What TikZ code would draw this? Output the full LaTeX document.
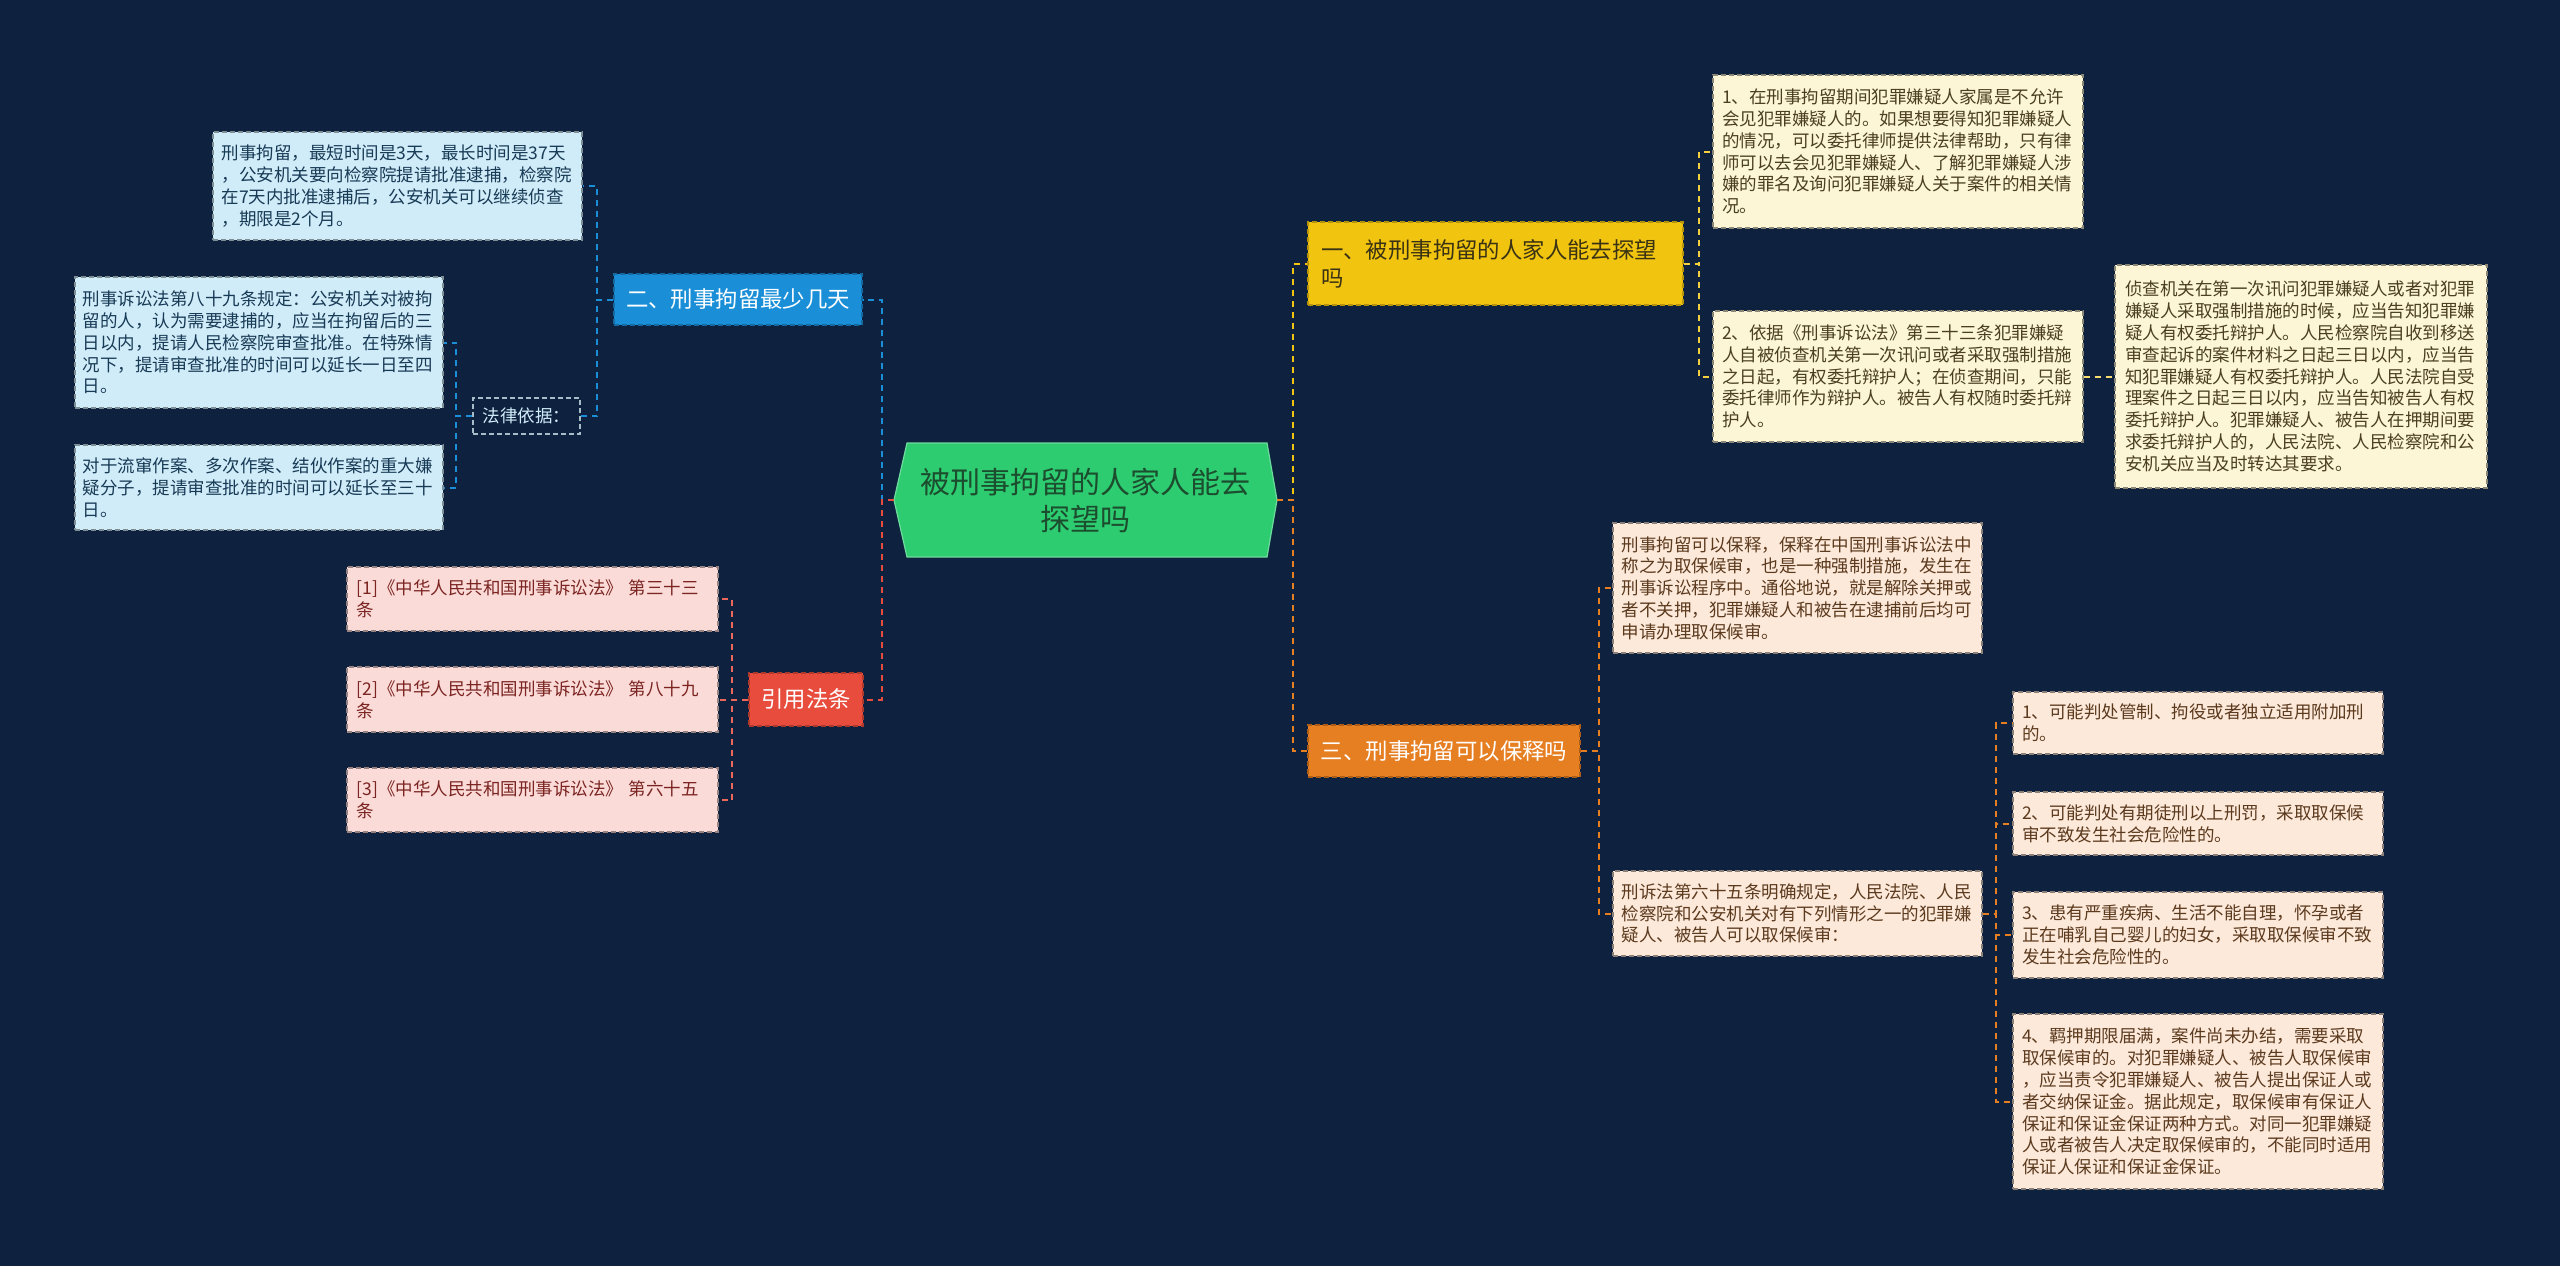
\documentclass[tikz,border=0pt]{standalone}
\usepackage{fontspec}
\setmainfont{Noto Sans CJK SC}
\definecolor{bg}{HTML}{0E2240}
\definecolor{cgreen}{HTML}{2ECC71}
\definecolor{cgreentext}{HTML}{1B4D2E}
\definecolor{cyellow}{HTML}{F1C40F}
\definecolor{corange}{HTML}{E67E22}
\definecolor{cred}{HTML}{E74C3C}
\definecolor{cblue}{HTML}{1A8FD8}
\definecolor{fcream}{HTML}{FDF6D6}
\definecolor{fpeach}{HTML}{FCE9DA}
\definecolor{fpink}{HTML}{FADBD8}
\definecolor{fblue}{HTML}{D1ECF9}
\definecolor{tcream}{HTML}{4A3F22}
\definecolor{tpeach}{HTML}{5C3A1E}
\definecolor{tpink}{HTML}{7B2421}
\definecolor{tblue}{HTML}{173A55}
\definecolor{tyel}{HTML}{3A3214}
\tikzset{
  base/.style={inner sep=0pt, anchor=center, line width=0.7pt, dash pattern=on 2.5pt off 1.5pt},
  leaftext/.style={font=\fontsize{8.75pt}{10.9pt}\selectfont, text width=176pt, align=left},
  bleaf/.style={base, leaftext, fill=fblue, draw=fblue!60!black, text=tblue},
  yleaf/.style={base, leaftext, fill=fcream, draw=fcream!55!black, text=tcream},
  pleaf/.style={base, leaftext, fill=fpink, draw=fpink!60!black, text=tpink},
  oleaf/.style={base, leaftext, fill=fpeach, draw=fpeach!55!black, text=tpeach},
  branch/.style={base, font=\fontsize{11.2pt}{14pt}\selectfont, fill=#1, draw=#1!75!black, text=white, align=center},
  con/.style={line width=1pt, dash pattern=on 3pt off 2.5pt}
}
\begin{document}
\begin{tikzpicture}[x=0.5pt,y=-0.5pt]
\fill[bg] (0,0) rectangle (2560,1266);
\useasboundingbox (0,0) rectangle (2560,1266);

% root
\fill[cgreen, draw=cgreen!70!white, line width=0.6pt] (894,500) -- (907,443) -- (1267,443) -- (1277,500) -- (1267,557) -- (907,557) -- cycle;
\node[inner sep=0pt, minimum width=191.5pt, minimum height=57pt, text=cgreentext, font=\fontsize{15pt}{18.5pt}\selectfont, align=center] (root) at (1085.5,500) {被刑事拘留的人家人能去\\探望吗};

% branches
\node[branch=cblue, minimum width=124pt, minimum height=25.5pt] (blue) at (738,299.5) {二、刑事拘留最少几天};
\node[branch=cred, minimum width=57pt, minimum height=26.5pt] (red) at (806,699.5) {引用法条};
\node[branch=corange, minimum width=136pt, minimum height=26pt] (ora) at (1444,751) {三、刑事拘留可以保释吗};
\node[branch=cyellow, text=tyel, text width=174.5pt, align=left, minimum width=187.5pt, minimum height=41.5pt] (yel) at (1495.5,263.5) {一、被刑事拘留的人家人能去探望\\吗};

% blue branch
\node[bleaf, minimum width=184.5pt, minimum height=54pt] (L1) at (397.5,186) {刑事拘留，最短时间是3天，最长时间是37天\\，公安机关要向检察院提请批准逮捕，检察院\\在7天内批准逮捕后，公安机关可以继续侦查\\，期限是2个月。};
\node[base, fill=bg, draw=fblue!80!black, text=fblue, font=\fontsize{8.75pt}{10.9pt}\selectfont, minimum width=53.5pt, minimum height=18pt] (law) at (526.5,416) {法律依据：};
\node[bleaf, minimum width=184pt, minimum height=65.5pt] (L2) at (259,342.5) {刑事诉讼法第八十九条规定：公安机关对被拘\\留的人，认为需要逮捕的，应当在拘留后的三\\日以内，提请人民检察院审查批准。在特殊情\\况下，提请审查批准的时间可以延长一日至四\\日。};
\node[bleaf, minimum width=184pt, minimum height=42.5pt] (L3) at (259,487.5) {对于流窜作案、多次作案、结伙作案的重大嫌\\疑分子，提请审查批准的时间可以延长至三十\\日。};

% red branch
\node[pleaf, minimum width=185.5pt, minimum height=32pt] (R1) at (532.5,599) {[1]《中华人民共和国刑事诉讼法》 第三十三\\条};
\node[pleaf, minimum width=185.5pt, minimum height=32.5pt] (R2) at (532.5,699.5) {[2]《中华人民共和国刑事诉讼法》 第八十九\\条};
\node[pleaf, minimum width=185.5pt, minimum height=32pt] (R3) at (532.5,800) {[3]《中华人民共和国刑事诉讼法》 第六十五\\条};

% yellow branch
\node[yleaf, minimum width=185pt, minimum height=76.5pt] (Y1) at (1898,151.5) {1、在刑事拘留期间犯罪嫌疑人家属是不允许\\会见犯罪嫌疑人的。如果想要得知犯罪嫌疑人\\的情况，可以委托律师提供法律帮助，只有律\\师可以去会见犯罪嫌疑人、了解犯罪嫌疑人涉\\嫌的罪名及询问犯罪嫌疑人关于案件的相关情\\况。};
\node[yleaf, minimum width=185pt, minimum height=65.5pt] (Y2) at (1898,376.5) {2、依据《刑事诉讼法》第三十三条犯罪嫌疑\\人自被侦查机关第一次讯问或者采取强制措施\\之日起，有权委托辩护人；在侦查期间，只能\\委托律师作为辩护人。被告人有权随时委托辩\\护人。};
\node[yleaf, minimum width=186pt, minimum height=111.5pt] (Y3) at (2301,376.5) {侦查机关在第一次讯问犯罪嫌疑人或者对犯罪\\嫌疑人采取强制措施的时候，应当告知犯罪嫌\\疑人有权委托辩护人。人民检察院自收到移送\\审查起诉的案件材料之日起三日以内，应当告\\知犯罪嫌疑人有权委托辩护人。人民法院自受\\理案件之日起三日以内，应当告知被告人有权\\委托辩护人。犯罪嫌疑人、被告人在押期间要\\求委托辩护人的，人民法院、人民检察院和公\\安机关应当及时转达其要求。};

% orange branch
\node[oleaf, minimum width=184.5pt, minimum height=65pt] (O1) at (1797.5,588) {刑事拘留可以保释，保释在中国刑事诉讼法中\\称之为取保候审，也是一种强制措施，发生在\\刑事诉讼程序中。通俗地说，就是解除关押或\\者不关押，犯罪嫌疑人和被告在逮捕前后均可\\申请办理取保候审。};
\node[oleaf, minimum width=184.5pt, minimum height=42.5pt] (O2) at (1797.5,913.5) {刑诉法第六十五条明确规定，人民法院、人民\\检察院和公安机关对有下列情形之一的犯罪嫌\\疑人、被告人可以取保候审：};
\node[oleaf, minimum width=185pt, minimum height=31pt] (O2a) at (2198,723) {1、可能判处管制、拘役或者独立适用附加刑\\的。};
\node[oleaf, minimum width=185pt, minimum height=31.5pt] (O2b) at (2198,823.5) {2、可能判处有期徒刑以上刑罚，采取取保候\\审不致发生社会危险性的。};
\node[oleaf, minimum width=185pt, minimum height=43pt] (O2c) at (2198,935) {3、患有严重疾病、生活不能自理，怀孕或者\\正在哺乳自己婴儿的妇女，采取取保候审不致\\发生社会危险性的。};
\node[oleaf, minimum width=185pt, minimum height=87.5pt] (O2d) at (2198,1101.5) {4、羁押期限届满，案件尚未办结，需要采取\\取保候审的。对犯罪嫌疑人、被告人取保候审\\，应当责令犯罪嫌疑人、被告人提出保证人或\\者交纳保证金。据此规定，取保候审有保证人\\保证和保证金保证两种方式。对同一犯罪嫌疑\\人或者被告人决定取保候审的，不能同时适用\\保证人保证和保证金保证。};

% connectors from root
\draw[con, cblue] (root.west) -- ++(-12,0) |- (blue.east);
\draw[con, cred] (root.west) -- ++(-12,0) |- (red.east);
\draw[con, cyellow] (root.east) -- ++(16,0) |- (yel.west);
\draw[con, corange] (root.east) -- ++(16,0) |- (ora.west);

% blue branch connectors
\draw[con, cblue] (blue.west) -- ++(-16,0) |- (L1.east);
\draw[con, cblue] (blue.west) -- ++(-16,0) |- (law.east);
\draw[con, cblue] (law.west) -- ++(-16,0) |- (L2.east);
\draw[con, cblue] (law.west) -- ++(-16,0) |- (L3.east);

% red branch connectors
\draw[con, cred!85!white] (red.west) -- ++(-16,0) |- (R1.east);
\draw[con, cred!85!white] (red.west) -- ++(-16,0) |- (R2.east);
\draw[con, cred!85!white] (red.west) -- ++(-16,0) |- (R3.east);

% yellow branch connectors
\draw[con, cyellow!80!white] (yel.east) -- ++(15,0) |- (Y1.west);
\draw[con, cyellow!80!white] (yel.east) -- ++(15,0) |- (Y2.west);
\draw[con, cyellow!60!white] (Y2.east) -- (Y3.west);

% orange branch connectors
\draw[con, corange] (ora.east) -- ++(18,0) |- (O1.west);
\draw[con, corange] (ora.east) -- ++(18,0) |- (O2.west);
\draw[con, corange] (O2.east) -- ++(13,0) |- (O2a.west);
\draw[con, corange] (O2.east) -- ++(13,0) |- (O2b.west);
\draw[con, corange] (O2.east) -- ++(13,0) |- (O2c.west);
\draw[con, corange] (O2.east) -- ++(13,0) |- (O2d.west);
\end{tikzpicture}
\end{document}
